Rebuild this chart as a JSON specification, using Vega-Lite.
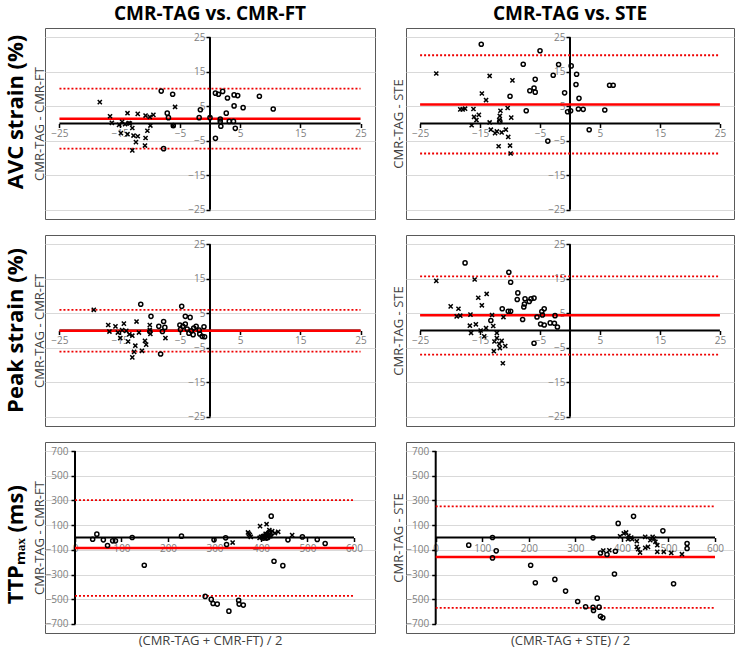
{
"$schema": "https://vega.github.io/schema/vega-lite/v6.json",
"padding": {"left": 4, "right": 0, "top": 4, "bottom": 0},
"config": {"font": "Open Sans", "view": {"stroke": "#595959", "strokeWidth": 1}, "axis": {"labelFont": "Open Sans", "titleFont": "Open Sans", "tickCount": 50, "labelOverlap": false}, "scale": {"zero": false}},
"datasets": {
"d1": [{"x":-18.3,"y":6.2,"g":"x"},{"x":-16.6,"y":2.1,"g":"x"},{"x":-16.3,"y":0.2,"g":"x"},{"x":-15.1,"y":-0.4,"g":"x"},{"x":-14.6,"y":0.5,"g":"x"},{"x":-14.8,"y":-2.8,"g":"x"},{"x":-14.1,"y":-0.2,"g":"x"},{"x":-13.7,"y":3.0,"g":"x"},{"x":-13.5,"y":0.1,"g":"x"},{"x":-13.7,"y":-3.1,"g":"x"},{"x":-13.3,"y":0.0,"g":"x"},{"x":-12.9,"y":-1.3,"g":"x"},{"x":-12.7,"y":-3.5,"g":"x"},{"x":-12.3,"y":-5.4,"g":"x"},{"x":-12.9,"y":-7.8,"g":"x"},{"x":-12.0,"y":-3.7,"g":"x"},{"x":-12.0,"y":2.8,"g":"x"},{"x":-10.7,"y":2.3,"g":"x"},{"x":-10.7,"y":-4.2,"g":"x"},{"x":-10.8,"y":-6.4,"g":"x"},{"x":-10.4,"y":-2.1,"g":"x"},{"x":-10.0,"y":1.9,"g":"x"},{"x":-9.9,"y":-0.6,"g":"x"},{"x":-9.4,"y":2.5,"g":"x"},{"x":-5.8,"y":4.8,"g":"x"},{"x":-6.1,"y":-0.6,"g":"x"},
{"x":-8.1,"y":9.4,"g":"o"},{"x":-6.2,"y":8.5,"g":"o"},{"x":-7.1,"y":3.0,"g":"o"},{"x":-6.9,"y":1.7,"g":"o"},{"x":-6.1,"y":-0.6,"g":"o"},{"x":-7.7,"y":-7.3,"g":"o"},{"x":-1.6,"y":4.0,"g":"o"},{"x":-1.8,"y":1.7,"g":"o"},{"x":0.0,"y":1.7,"g":"o"},{"x":0.9,"y":8.8,"g":"o"},{"x":1.4,"y":8.5,"g":"o"},{"x":2.1,"y":9.3,"g":"o"},{"x":2.9,"y":7.4,"g":"o"},{"x":4.0,"y":8.3,"g":"o"},{"x":4.6,"y":8.1,"g":"o"},{"x":4.0,"y":5.1,"g":"o"},{"x":5.5,"y":4.6,"g":"o"},{"x":8.2,"y":7.9,"g":"o"},{"x":10.5,"y":4.2,"g":"o"},{"x":2.7,"y":3.0,"g":"o"},{"x":1.7,"y":1.3,"g":"o"},{"x":1.7,"y":0.6,"g":"o"},{"x":1.8,"y":-0.8,"g":"o"},{"x":3.2,"y":0.6,"g":"o"},{"x":3.9,"y":0.6,"g":"o"},{"x":4.2,"y":-1.4,"g":"o"},{"x":0.9,"y":-4.3,"g":"o"}],
"d2": [{"x":-19.3,"y":6.0,"g":"x"},{"x":-16.9,"y":1.6,"g":"x"},{"x":-16.7,"y":-0.3,"g":"x"},{"x":-15.7,"y":1.2,"g":"x"},{"x":-15.3,"y":-0.6,"g":"x"},{"x":-14.9,"y":-2.2,"g":"x"},{"x":-14.3,"y":2.0,"g":"x"},{"x":-14.6,"y":0.1,"g":"x"},{"x":-13.9,"y":-0.1,"g":"x"},{"x":-13.6,"y":-3.2,"g":"x"},{"x":-13.4,"y":-1.1,"g":"x"},{"x":-12.9,"y":-1.5,"g":"x"},{"x":-12.2,"y":2.6,"g":"x"},{"x":-11.8,"y":-0.6,"g":"x"},{"x":-12.4,"y":-4.4,"g":"x"},{"x":-12.6,"y":-6.2,"g":"x"},{"x":-12.9,"y":-7.8,"g":"x"},{"x":-11.3,"y":-5.9,"g":"x"},{"x":-10.8,"y":-3.0,"g":"x"},{"x":-10.6,"y":-4.1,"g":"x"},{"x":-10.0,"y":1.6,"g":"x"},{"x":-9.9,"y":-1.0,"g":"x"},{"x":-7.4,"y":-2.2,"g":"x"},{"x":-10.0,"y":0.2,"g":"x"},
{"x":-11.5,"y":7.6,"g":"o"},{"x":-9.8,"y":4.1,"g":"o"},{"x":-8.2,"y":-6.8,"g":"o"},{"x":-8.5,"y":1.2,"g":"o"},{"x":-7.7,"y":2.6,"g":"o"},{"x":-7.5,"y":0.9,"g":"o"},{"x":-7.9,"y":-0.3,"g":"o"},{"x":-4.7,"y":7.0,"g":"o"},{"x":-4.1,"y":4.1,"g":"o"},{"x":-3.3,"y":3.8,"g":"o"},{"x":-5.0,"y":1.6,"g":"o"},{"x":-4.5,"y":1.2,"g":"o"},{"x":-4.1,"y":1.9,"g":"o"},{"x":-3.8,"y":0.4,"g":"o"},{"x":-3.5,"y":-0.8,"g":"o"},{"x":-3.1,"y":-0.1,"g":"o"},{"x":-2.8,"y":-1.2,"g":"o"},{"x":-2.3,"y":1.2,"g":"o"},{"x":-1.8,"y":0.1,"g":"o"},{"x":-1.7,"y":-1.0,"g":"o"},{"x":-1.3,"y":-1.7,"g":"o"},{"x":-1.0,"y":1.1,"g":"o"},{"x":-0.9,"y":-1.8,"g":"o"},{"x":-2.7,"y":0.7,"g":"o"},{"x":-4.9,"y":0.3,"g":"o"},{"x":-10.0,"y":-0.3,"g":"o"}],
"d3": [{"x":-22.3,"y":14.5,"g":"x"},{"x":-18.3,"y":4.1,"g":"x"},{"x":-17.9,"y":4.1,"g":"x"},{"x":-17.5,"y":4.3,"g":"x"},{"x":-16.1,"y":4.2,"g":"x"},{"x":-16.0,"y":1.9,"g":"x"},{"x":-15.6,"y":1.0,"g":"x"},{"x":-16.4,"y":-0.5,"g":"x"},{"x":-15.2,"y":2.5,"g":"x"},{"x":-14.7,"y":8.7,"g":"x"},{"x":-14.0,"y":6.8,"g":"x"},{"x":-13.4,"y":13.8,"g":"x"},{"x":-13.4,"y":0.3,"g":"x"},{"x":-13.2,"y":-1.8,"g":"x"},{"x":-12.5,"y":-2.8,"g":"x"},{"x":-12.2,"y":-2.3,"g":"x"},{"x":-11.9,"y":-6.6,"g":"x"},{"x":-11.8,"y":1.0,"g":"x"},{"x":-11.7,"y":2.2,"g":"x"},{"x":-11.6,"y":3.7,"g":"x"},{"x":-11.4,"y":-2.6,"g":"x"},{"x":-10.7,"y":-1.8,"g":"x"},{"x":-10.4,"y":4.5,"g":"x"},{"x":-10.3,"y":-3.9,"g":"x"},{"x":-10.0,"y":-6.4,"g":"x"},{"x":-9.9,"y":-8.7,"g":"x"},{"x":-9.8,"y":1.7,"g":"x"},{"x":-9.6,"y":12.5,"g":"x"},
{"x":-14.8,"y":23.0,"g":"o"},{"x":-5.0,"y":21.1,"g":"o"},{"x":-7.8,"y":17.2,"g":"o"},{"x":-1.9,"y":17.1,"g":"o"},{"x":0.2,"y":16.7,"g":"o"},{"x":-2.8,"y":14.0,"g":"o"},{"x":1.1,"y":14.3,"g":"o"},{"x":-5.8,"y":12.8,"g":"o"},{"x":1.0,"y":11.3,"g":"o"},{"x":-6.7,"y":9.5,"g":"o"},{"x":-6.0,"y":10.3,"g":"o"},{"x":-5.8,"y":9.1,"g":"o"},{"x":-10.0,"y":7.9,"g":"o"},{"x":-0.9,"y":8.9,"g":"o"},{"x":1.5,"y":7.3,"g":"o"},{"x":-7.3,"y":3.7,"g":"o"},{"x":-0.4,"y":3.4,"g":"o"},{"x":0.1,"y":3.7,"g":"o"},{"x":1.4,"y":4.2,"g":"o"},{"x":2.2,"y":4.1,"g":"o"},{"x":5.8,"y":3.9,"g":"o"},{"x":6.6,"y":11.1,"g":"o"},{"x":7.2,"y":11.1,"g":"o"},{"x":3.2,"y":-1.8,"g":"o"},{"x":-3.7,"y":-5.1,"g":"o"},{"x":-11.7,"y":0.6,"g":"o"}],
"d4": [{"x":-22.3,"y":14.4,"g":"x"},{"x":-15.9,"y":14.8,"g":"x"},{"x":-19.9,"y":7.0,"g":"x"},{"x":-18.6,"y":6.3,"g":"x"},{"x":-18.9,"y":4.1,"g":"x"},{"x":-18.3,"y":4.3,"g":"x"},{"x":-16.6,"y":4.6,"g":"x"},{"x":-16.7,"y":1.4,"g":"x"},{"x":-16.5,"y":-0.7,"g":"x"},{"x":-15.7,"y":1.8,"g":"x"},{"x":-15.3,"y":9.5,"g":"x"},{"x":-14.7,"y":7.3,"g":"x"},{"x":-13.9,"y":10.6,"g":"x"},{"x":-14.3,"y":-1.7,"g":"x"},{"x":-14.9,"y":0.0,"g":"x"},{"x":-14.0,"y":0.7,"g":"x"},{"x":-13.0,"y":4.5,"g":"x"},{"x":-12.8,"y":1.3,"g":"x"},{"x":-12.6,"y":-3.2,"g":"x"},{"x":-12.7,"y":-6.0,"g":"x"},{"x":-12.2,"y":-0.7,"g":"x"},{"x":-12.2,"y":-2.2,"g":"x"},{"x":-11.8,"y":-3.9,"g":"x"},{"x":-11.7,"y":-5.1,"g":"x"},{"x":-11.4,"y":-3.0,"g":"x"},{"x":-11.1,"y":3.9,"g":"x"},{"x":-10.8,"y":-4.5,"g":"x"},{"x":-11.2,"y":-9.5,"g":"x"},
{"x":-17.5,"y":19.6,"g":"o"},{"x":-10.2,"y":16.9,"g":"o"},{"x":-9.9,"y":14.0,"g":"o"},{"x":-8.7,"y":10.9,"g":"o"},{"x":-8.8,"y":9.0,"g":"o"},{"x":-7.5,"y":9.2,"g":"o"},{"x":-7.6,"y":7.7,"g":"o"},{"x":-7.7,"y":6.8,"g":"o"},{"x":-6.8,"y":8.4,"g":"o"},{"x":-6.5,"y":9.2,"g":"o"},{"x":-6.0,"y":9.4,"g":"o"},{"x":-11.3,"y":6.3,"g":"o"},{"x":-10.3,"y":5.6,"g":"o"},{"x":-9.9,"y":5.6,"g":"o"},{"x":-13.2,"y":2.9,"g":"o"},{"x":-7.9,"y":3.2,"g":"o"},{"x":-5.5,"y":3.9,"g":"o"},{"x":-4.7,"y":5.5,"g":"o"},{"x":-4.3,"y":6.3,"g":"o"},{"x":-4.6,"y":4.5,"g":"o"},{"x":-4.9,"y":1.9,"g":"o"},{"x":-4.3,"y":1.6,"g":"o"},{"x":-3.3,"y":2.2,"g":"o"},{"x":-2.6,"y":2.1,"g":"o"},{"x":-2.5,"y":4.3,"g":"o"},{"x":-2.1,"y":1.0,"g":"o"},{"x":-6.0,"y":-3.7,"g":"o"}],
"d5": [{"x":38,"y":-14,"g":"o"},{"x":47,"y":27,"g":"o"},{"x":61,"y":-19,"g":"o"},{"x":70,"y":-65,"g":"o"},{"x":81,"y":-27,"g":"o"},{"x":87,"y":-27,"g":"o"},{"x":123,"y":0,"g":"o"},{"x":149,"y":-225,"g":"o"},{"x":229,"y":11,"g":"o"},{"x":299,"y":-19,"g":"o"},{"x":324,"y":-3,"g":"o"},{"x":326,"y":-57,"g":"o"},{"x":280,"y":-477,"g":"o"},{"x":293,"y":-501,"g":"o"},{"x":297,"y":-534,"g":"o"},{"x":306,"y":-539,"g":"o"},{"x":331,"y":-596,"g":"o"},{"x":352,"y":-509,"g":"o"},{"x":353,"y":-539,"g":"o"},{"x":362,"y":-547,"g":"o"},{"x":422,"y":173,"g":"o"},{"x":428,"y":-192,"g":"o"},{"x":447,"y":-228,"g":"o"},{"x":458,"y":-19,"g":"o"},{"x":489,"y":5,"g":"o"},{"x":521,"y":-16,"g":"o"},{"x":538,"y":-49,"g":"o"},{"x":405,"y":-5,"g":"o"},{"x":408,"y":5,"g":"o"},{"x":410,"y":15,"g":"o"},{"x":413,"y":25,"g":"o"},{"x":416,"y":35,"g":"o"},{"x":418,"y":45,"g":"o"},{"x":412,"y":-5,"g":"o"},{"x":420,"y":20,"g":"o"},{"x":404,"y":10,"g":"o"},{"x":415,"y":0,"g":"o"},
{"x":339,"y":-41,"g":"x"},{"x":372,"y":41,"g":"x"},{"x":376,"y":19,"g":"x"},{"x":374,"y":30,"g":"x"},{"x":398,"y":92,"g":"x"},{"x":412,"y":108,"g":"x"},{"x":397,"y":-3,"g":"x"},{"x":404,"y":-3,"g":"x"},{"x":424,"y":51,"g":"x"},{"x":437,"y":46,"g":"x"},{"x":467,"y":19,"g":"x"},{"x":430,"y":35,"g":"x"},{"x":418,"y":60,"g":"x"},{"x":410,"y":30,"g":"x"},{"x":400,"y":5,"g":"x"},{"x":420,"y":10,"g":"x"},{"x":378,"y":5,"g":"x"}],
"d6": [{"x":71,"y":-62,"g":"o"},{"x":122,"y":0,"g":"o"},{"x":130,"y":-108,"g":"o"},{"x":122,"y":-165,"g":"o"},{"x":204,"y":-225,"g":"o"},{"x":214,"y":-366,"g":"o"},{"x":256,"y":-339,"g":"o"},{"x":279,"y":-434,"g":"o"},{"x":305,"y":-518,"g":"o"},{"x":322,"y":-561,"g":"o"},{"x":338,"y":-566,"g":"o"},{"x":339,"y":-591,"g":"o"},{"x":347,"y":-491,"g":"o"},{"x":351,"y":-564,"g":"o"},{"x":354,"y":-637,"g":"o"},{"x":359,"y":-650,"g":"o"},{"x":338,"y":-3,"g":"o"},{"x":354,"y":-125,"g":"o"},{"x":368,"y":-138,"g":"o"},{"x":386,"y":-111,"g":"o"},{"x":384,"y":-295,"g":"o"},{"x":392,"y":114,"g":"o"},{"x":425,"y":171,"g":"o"},{"x":488,"y":54,"g":"o"},{"x":511,"y":-374,"g":"o"},{"x":540,"y":-49,"g":"o"},{"x":540,"y":-89,"g":"o"},
{"x":373,"y":-103,"g":"x"},{"x":404,"y":33,"g":"x"},{"x":409,"y":41,"g":"x"},{"x":414,"y":14,"g":"x"},{"x":413,"y":-14,"g":"x"},{"x":422,"y":-14,"g":"x"},{"x":432,"y":-30,"g":"x"},{"x":432,"y":-76,"g":"x"},{"x":435,"y":-95,"g":"x"},{"x":439,"y":-122,"g":"x"},{"x":450,"y":-84,"g":"x"},{"x":456,"y":-76,"g":"x"},{"x":461,"y":-22,"g":"x"},{"x":466,"y":5,"g":"x"},{"x":469,"y":-8,"g":"x"},{"x":472,"y":-35,"g":"x"},{"x":476,"y":-62,"g":"x"},{"x":476,"y":-116,"g":"x"},{"x":490,"y":-116,"g":"x"},{"x":506,"y":-125,"g":"x"},{"x":529,"y":-135,"g":"x"},{"x":450,"y":5,"g":"x"},{"x":396,"y":10,"g":"x"},{"x":420,"y":0,"g":"x"},{"x":360,"y":-105,"g":"x"}],
"m1": [{"k":"m","v":1.4},{"k":"u","v":10.1},{"k":"l","v":-7.3}],
"m2": [{"k":"m","v":-0.1},{"k":"u","v":6.0},{"k":"l","v":-6.1}],
"m3": [{"k":"m","v":5.5},{"k":"u","v":19.8},{"k":"l","v":-8.7}],
"m4": [{"k":"m","v":4.4},{"k":"u","v":15.7},{"k":"l","v":-7.0}],
"m5": [{"k":"m","v":-84},{"k":"u","v":303},{"k":"l","v":-472}],
"m6": [{"k":"m","v":-157},{"k":"u","v":252},{"k":"l","v":-569}],
"one": [{}]
},
"spacing": 14,
"vconcat": [
{"title": {"text": "AVC strain (%)", "orient": "left", "anchor": "middle", "fontSize": 22, "fontWeight": "bold", "color": "#000", "offset": 5, "font": "Open Sans"},
 "spacing": 15,
 "hconcat": [
 {"width": 330, "height": 191,
  "title": {"text": "CMR-TAG vs. CMR-FT", "fontSize": 19, "fontWeight": "bold", "color": "#000", "offset": 4, "anchor": "middle", "font": "Open Sans"},
  "layer": [
   {"data": {"name": "one"}, "mark": {"type": "rule", "color": "#000", "strokeWidth": 2},
    "encoding": {"x": {"datum": -25, "type": "quantitative", "scale": {"domain": [-27.4, 27.4], "nice": false}, "axis": {"values": [-25,-15,-5,5,15,25], "offset": -95.5, "domain": false, "grid": false, "tickColor": "#000", "tickWidth": 1.5, "tickSize": 4, "labelColor": "#808080", "labelFontSize": 10, "labelPadding": 1, "labelFlush": false, "labelOverlap": false, "title": null}},
     "x2": {"datum": 25}, "y": {"datum": 0, "type": "quantitative", "scale": {"domain": [-27.7, 27.7], "nice": false}, "axis": {"values": [-25,-15,-5,5,15,25], "offset": -165, "domain": false, "grid": true, "gridColor": "#d9d9d9", "tickColor": "#000", "tickWidth": 1.5, "tickSize": 4, "labelColor": "#808080", "labelFontSize": 10, "labelPadding": 1, "labelFlush": false, "labelOverlap": false, "title": "CMR-TAG - CMR-FT", "titleX": -171, "titleY": 95.5, "titleBaseline": "middle", "titleFontSize": 13, "titleFontWeight": "normal", "titleColor": "#404040"}}}},
   {"data": {"name": "one"}, "mark": {"type": "rule", "color": "#000", "strokeWidth": 2},
    "encoding": {"y": {"datum": -25, "type": "quantitative"}, "y2": {"datum": 25}, "x": {"datum": 0, "type": "quantitative"}}},
   {"data": {"name": "m1"}, "transform": [{"filter": "datum.k == 'm'"}], "mark": {"type": "rule", "color": "#ff0000", "strokeWidth": 2.5},
    "encoding": {"x": {"datum": -25, "type": "quantitative"}, "x2": {"datum": 25}, "y": {"field": "v", "type": "quantitative"}}},
   {"data": {"name": "m1"}, "transform": [{"filter": "datum.k != 'm'"}], "mark": {"type": "rule", "color": "#ee0000", "strokeWidth": 1.8, "strokeDash": [2, 2]},
    "encoding": {"x": {"datum": -25, "type": "quantitative"}, "x2": {"datum": 25}, "y": {"field": "v", "type": "quantitative"}}},
   {"data": {"name": "d1"}, "mark": {"type": "point", "filled": false, "stroke": "#000", "strokeWidth": 1.5, "size": 17, "opacity": 1},
    "encoding": {"x": {"field": "x", "type": "quantitative"}, "y": {"field": "y", "type": "quantitative"},
     "shape": {"field": "g", "type": "nominal", "scale": {"domain": ["o", "x"], "range": ["circle", "M-1,-1L1,1M-1,1L1,-1"]}, "legend": null}}}
  ]},
 {"width": 328, "height": 191,
  "title": {"text": "CMR-TAG vs. STE", "fontSize": 19, "fontWeight": "bold", "color": "#000", "offset": 4, "anchor": "middle", "font": "Open Sans"},
  "layer": [
   {"data": {"name": "one"}, "mark": {"type": "rule", "color": "#000", "strokeWidth": 2},
    "encoding": {"x": {"datum": -25, "type": "quantitative", "scale": {"domain": [-27.35, 27.35], "nice": false}, "axis": {"values": [-25,-15,-5,5,15,25], "offset": -95.5, "domain": false, "grid": false, "tickColor": "#000", "tickWidth": 1.5, "tickSize": 4, "labelColor": "#808080", "labelFontSize": 10, "labelPadding": 1, "labelFlush": false, "labelOverlap": false, "title": null}},
     "x2": {"datum": 25}, "y": {"datum": 0, "type": "quantitative", "scale": {"domain": [-27.7, 27.7], "nice": false}, "axis": {"values": [-25,-15,-5,5,15,25], "offset": -164, "domain": false, "grid": true, "gridColor": "#d9d9d9", "tickColor": "#000", "tickWidth": 1.5, "tickSize": 4, "labelColor": "#808080", "labelFontSize": 10, "labelPadding": 1, "labelFlush": false, "labelOverlap": false, "title": "CMR-TAG - STE", "titleX": -172, "titleY": 95.5, "titleBaseline": "middle", "titleFontSize": 13, "titleFontWeight": "normal", "titleColor": "#404040"}}}},
   {"data": {"name": "one"}, "mark": {"type": "rule", "color": "#000", "strokeWidth": 2},
    "encoding": {"y": {"datum": -25, "type": "quantitative"}, "y2": {"datum": 25}, "x": {"datum": 0, "type": "quantitative"}}},
   {"data": {"name": "m3"}, "transform": [{"filter": "datum.k == 'm'"}], "mark": {"type": "rule", "color": "#ff0000", "strokeWidth": 2.5},
    "encoding": {"x": {"datum": -25, "type": "quantitative"}, "x2": {"datum": 25}, "y": {"field": "v", "type": "quantitative"}}},
   {"data": {"name": "m3"}, "transform": [{"filter": "datum.k != 'm'"}], "mark": {"type": "rule", "color": "#ee0000", "strokeWidth": 1.8, "strokeDash": [2, 2]},
    "encoding": {"x": {"datum": -25, "type": "quantitative"}, "x2": {"datum": 25}, "y": {"field": "v", "type": "quantitative"}}},
   {"data": {"name": "d3"}, "mark": {"type": "point", "filled": false, "stroke": "#000", "strokeWidth": 1.5, "size": 17, "opacity": 1},
    "encoding": {"x": {"field": "x", "type": "quantitative"}, "y": {"field": "y", "type": "quantitative"},
     "shape": {"field": "g", "type": "nominal", "scale": {"domain": ["o", "x"], "range": ["circle", "M-1,-1L1,1M-1,1L1,-1"]}, "legend": null}}}
  ]}
 ]},
{"title": {"text": "Peak strain (%)", "orient": "left", "anchor": "middle", "fontSize": 22, "fontWeight": "bold", "color": "#000", "offset": 5, "font": "Open Sans"},
 "spacing": 15,
 "hconcat": [
 {"width": 330, "height": 191,
  "layer": [
   {"data": {"name": "one"}, "mark": {"type": "rule", "color": "#000", "strokeWidth": 2},
    "encoding": {"x": {"datum": -25, "type": "quantitative", "scale": {"domain": [-27.4, 27.4], "nice": false}, "axis": {"values": [-25,-15,-5,5,15,25], "offset": -95.5, "domain": false, "grid": false, "tickColor": "#000", "tickWidth": 1.5, "tickSize": 4, "labelColor": "#808080", "labelFontSize": 10, "labelPadding": 1, "labelFlush": false, "labelOverlap": false, "title": null}},
     "x2": {"datum": 25}, "y": {"datum": 0, "type": "quantitative", "scale": {"domain": [-27.7, 27.7], "nice": false}, "axis": {"values": [-25,-15,-5,5,15,25], "offset": -165, "domain": false, "grid": true, "gridColor": "#d9d9d9", "tickColor": "#000", "tickWidth": 1.5, "tickSize": 4, "labelColor": "#808080", "labelFontSize": 10, "labelPadding": 1, "labelFlush": false, "labelOverlap": false, "title": "CMR-TAG - CMR-FT", "titleX": -171, "titleY": 95.5, "titleBaseline": "middle", "titleFontSize": 13, "titleFontWeight": "normal", "titleColor": "#404040"}}}},
   {"data": {"name": "one"}, "mark": {"type": "rule", "color": "#000", "strokeWidth": 2},
    "encoding": {"y": {"datum": -25, "type": "quantitative"}, "y2": {"datum": 25}, "x": {"datum": 0, "type": "quantitative"}}},
   {"data": {"name": "m2"}, "transform": [{"filter": "datum.k == 'm'"}], "mark": {"type": "rule", "color": "#ff0000", "strokeWidth": 2.5},
    "encoding": {"x": {"datum": -25, "type": "quantitative"}, "x2": {"datum": 25}, "y": {"field": "v", "type": "quantitative"}}},
   {"data": {"name": "m2"}, "transform": [{"filter": "datum.k != 'm'"}], "mark": {"type": "rule", "color": "#ee0000", "strokeWidth": 1.8, "strokeDash": [2, 2]},
    "encoding": {"x": {"datum": -25, "type": "quantitative"}, "x2": {"datum": 25}, "y": {"field": "v", "type": "quantitative"}}},
   {"data": {"name": "d2"}, "mark": {"type": "point", "filled": false, "stroke": "#000", "strokeWidth": 1.5, "size": 17, "opacity": 1},
    "encoding": {"x": {"field": "x", "type": "quantitative"}, "y": {"field": "y", "type": "quantitative"},
     "shape": {"field": "g", "type": "nominal", "scale": {"domain": ["o", "x"], "range": ["circle", "M-1,-1L1,1M-1,1L1,-1"]}, "legend": null}}}
  ]},
 {"width": 328, "height": 191,
  "layer": [
   {"data": {"name": "one"}, "mark": {"type": "rule", "color": "#000", "strokeWidth": 2},
    "encoding": {"x": {"datum": -25, "type": "quantitative", "scale": {"domain": [-27.35, 27.35], "nice": false}, "axis": {"values": [-25,-15,-5,5,15,25], "offset": -95.5, "domain": false, "grid": false, "tickColor": "#000", "tickWidth": 1.5, "tickSize": 4, "labelColor": "#808080", "labelFontSize": 10, "labelPadding": 1, "labelFlush": false, "labelOverlap": false, "title": null}},
     "x2": {"datum": 25}, "y": {"datum": 0, "type": "quantitative", "scale": {"domain": [-27.7, 27.7], "nice": false}, "axis": {"values": [-25,-15,-5,5,15,25], "offset": -164, "domain": false, "grid": true, "gridColor": "#d9d9d9", "tickColor": "#000", "tickWidth": 1.5, "tickSize": 4, "labelColor": "#808080", "labelFontSize": 10, "labelPadding": 1, "labelFlush": false, "labelOverlap": false, "title": "CMR-TAG - STE", "titleX": -172, "titleY": 95.5, "titleBaseline": "middle", "titleFontSize": 13, "titleFontWeight": "normal", "titleColor": "#404040"}}}},
   {"data": {"name": "one"}, "mark": {"type": "rule", "color": "#000", "strokeWidth": 2},
    "encoding": {"y": {"datum": -25, "type": "quantitative"}, "y2": {"datum": 25}, "x": {"datum": 0, "type": "quantitative"}}},
   {"data": {"name": "m4"}, "transform": [{"filter": "datum.k == 'm'"}], "mark": {"type": "rule", "color": "#ff0000", "strokeWidth": 2.5},
    "encoding": {"x": {"datum": -25, "type": "quantitative"}, "x2": {"datum": 25}, "y": {"field": "v", "type": "quantitative"}}},
   {"data": {"name": "m4"}, "transform": [{"filter": "datum.k != 'm'"}], "mark": {"type": "rule", "color": "#ee0000", "strokeWidth": 1.8, "strokeDash": [2, 2]},
    "encoding": {"x": {"datum": -25, "type": "quantitative"}, "x2": {"datum": 25}, "y": {"field": "v", "type": "quantitative"}}},
   {"data": {"name": "d4"}, "mark": {"type": "point", "filled": false, "stroke": "#000", "strokeWidth": 1.5, "size": 17, "opacity": 1},
    "encoding": {"x": {"field": "x", "type": "quantitative"}, "y": {"field": "y", "type": "quantitative"},
     "shape": {"field": "g", "type": "nominal", "scale": {"domain": ["o", "x"], "range": ["circle", "M-1,-1L1,1M-1,1L1,-1"]}, "legend": null}}}
  ]}
 ]},
{"title": {"text": "TTPₘₐₓ (ms)", "orient": "left", "anchor": "middle", "fontSize": 22, "fontWeight": "bold", "color": "#000", "offset": 5, "font": "Open Sans"},
 "spacing": 15,
 "hconcat": [
 {"width": 330, "height": 191,
  "layer": [
   {"data": {"name": "one"}, "mark": {"type": "rule", "color": "#000", "strokeWidth": 2},
    "encoding": {"x": {"datum": 0, "type": "quantitative", "scale": {"domain": [-64.5, 645.2], "nice": false}, "axis": {"values": [0,100,200,300,400,500,600], "offset": -95.5, "domain": false, "grid": false, "tickColor": "#000", "tickWidth": 1.5, "tickSize": 4, "labelColor": "#808080", "labelFontSize": 10, "labelPadding": 2, "labelDx": 4.5, "labelFlush": false, "labelOverlap": false, "title": "(CMR-TAG + CMR-FT) / 2", "titleY": 103, "titleBaseline": "middle", "titleFontSize": 13, "titleFontWeight": "normal", "titleColor": "#404040"}},
     "x2": {"datum": 600}, "y": {"datum": 0, "type": "quantitative", "scale": {"domain": [-773, 773], "nice": false}, "axis": {"values": [-700,-500,-300,-100,100,300,500,700], "offset": -30, "domain": false, "grid": true, "gridColor": "#d9d9d9", "tickColor": "#000", "tickWidth": 1.5, "tickSize": 4, "labelColor": "#808080", "labelFontSize": 10, "labelPadding": 3, "labelFlush": false, "labelOverlap": false, "title": "CMR-TAG - CMR-FT", "titleX": -36, "titleY": 95.5, "titleBaseline": "middle", "titleFontSize": 13, "titleFontWeight": "normal", "titleColor": "#404040"}}}},
   {"data": {"name": "one"}, "mark": {"type": "rule", "color": "#000", "strokeWidth": 2},
    "encoding": {"y": {"datum": -700, "type": "quantitative"}, "y2": {"datum": 700}, "x": {"datum": 0, "type": "quantitative"}}},
   {"data": {"name": "m5"}, "transform": [{"filter": "datum.k == 'm'"}], "mark": {"type": "rule", "color": "#ff0000", "strokeWidth": 2.5},
    "encoding": {"x": {"datum": 0, "type": "quantitative"}, "x2": {"datum": 600}, "y": {"field": "v", "type": "quantitative"}}},
   {"data": {"name": "m5"}, "transform": [{"filter": "datum.k != 'm'"}], "mark": {"type": "rule", "color": "#ee0000", "strokeWidth": 1.8, "strokeDash": [2, 2]},
    "encoding": {"x": {"datum": 0, "type": "quantitative"}, "x2": {"datum": 600}, "y": {"field": "v", "type": "quantitative"}}},
   {"data": {"name": "d5"}, "mark": {"type": "point", "filled": false, "stroke": "#000", "strokeWidth": 1.5, "size": 17, "opacity": 1},
    "encoding": {"x": {"field": "x", "type": "quantitative"}, "y": {"field": "y", "type": "quantitative"},
     "shape": {"field": "g", "type": "nominal", "scale": {"domain": ["o", "x"], "range": ["circle", "M-1,-1L1,1M-1,1L1,-1"]}, "legend": null}}}
  ]},
 {"width": 328, "height": 191,
  "layer": [
   {"data": {"name": "one"}, "mark": {"type": "rule", "color": "#000", "strokeWidth": 2},
    "encoding": {"x": {"datum": 0, "type": "quantitative", "scale": {"domain": [-63.8, 640.8], "nice": false}, "axis": {"values": [0,100,200,300,400,500,600], "offset": -95.5, "domain": false, "grid": false, "tickColor": "#000", "tickWidth": 1.5, "tickSize": 4, "labelColor": "#808080", "labelFontSize": 10, "labelPadding": 2, "labelDx": 4.5, "labelFlush": false, "labelOverlap": false, "title": "(CMR-TAG + STE) / 2", "titleY": 103, "titleBaseline": "middle", "titleFontSize": 13, "titleFontWeight": "normal", "titleColor": "#404040"}},
     "x2": {"datum": 600}, "y": {"datum": 0, "type": "quantitative", "scale": {"domain": [-773, 773], "nice": false}, "axis": {"values": [-700,-500,-300,-100,100,300,500,700], "offset": -29.7, "domain": false, "grid": true, "gridColor": "#d9d9d9", "tickColor": "#000", "tickWidth": 1.5, "tickSize": 4, "labelColor": "#808080", "labelFontSize": 10, "labelPadding": 3, "labelFlush": false, "labelOverlap": false, "title": "CMR-TAG - STE", "titleX": -37.7, "titleY": 95.5, "titleBaseline": "middle", "titleFontSize": 13, "titleFontWeight": "normal", "titleColor": "#404040"}}}},
   {"data": {"name": "one"}, "mark": {"type": "rule", "color": "#000", "strokeWidth": 2},
    "encoding": {"y": {"datum": -700, "type": "quantitative"}, "y2": {"datum": 700}, "x": {"datum": 0, "type": "quantitative"}}},
   {"data": {"name": "m6"}, "transform": [{"filter": "datum.k == 'm'"}], "mark": {"type": "rule", "color": "#ff0000", "strokeWidth": 2.5},
    "encoding": {"x": {"datum": 0, "type": "quantitative"}, "x2": {"datum": 600}, "y": {"field": "v", "type": "quantitative"}}},
   {"data": {"name": "m6"}, "transform": [{"filter": "datum.k != 'm'"}], "mark": {"type": "rule", "color": "#ee0000", "strokeWidth": 1.8, "strokeDash": [2, 2]},
    "encoding": {"x": {"datum": 0, "type": "quantitative"}, "x2": {"datum": 600}, "y": {"field": "v", "type": "quantitative"}}},
   {"data": {"name": "d6"}, "mark": {"type": "point", "filled": false, "stroke": "#000", "strokeWidth": 1.5, "size": 17, "opacity": 1},
    "encoding": {"x": {"field": "x", "type": "quantitative"}, "y": {"field": "y", "type": "quantitative"},
     "shape": {"field": "g", "type": "nominal", "scale": {"domain": ["o", "x"], "range": ["circle", "M-1,-1L1,1M-1,1L1,-1"]}, "legend": null}}}
  ]}
 ]}
]
}
